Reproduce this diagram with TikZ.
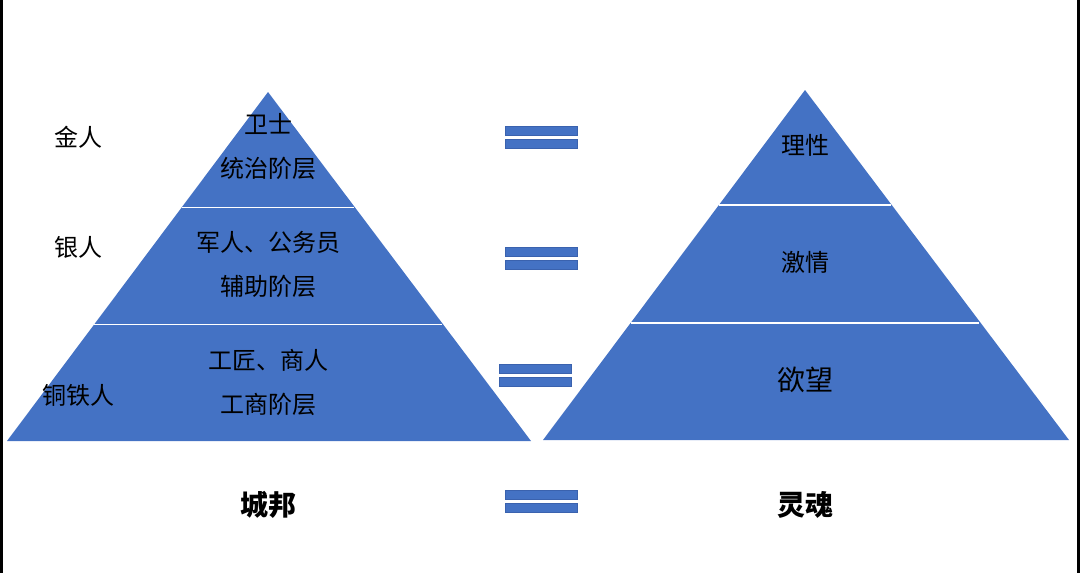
\documentclass[tikz,border=0pt]{standalone}
\usepackage{fontspec}
\setmainfont{Noto Sans CJK SC}
\definecolor{pb}{HTML}{4472C4}
\definecolor{pe}{HTML}{3A62AE}
\begin{document}
\begin{tikzpicture}[x=1pt,y=-1pt,
  band/.style={fill=pb,draw=white,line width=1.5pt},
  bar/.style={fill=pb,draw=pe,line width=0.8pt},
  lab/.style={font=\fontsize{24}{24}\selectfont,text=black,inner sep=0},
  big/.style={font=\fontsize{28}{28}\selectfont\bfseries,inner sep=0}]
\useasboundingbox (0,0) rectangle (1080,573);
\fill[black] (0,0) rectangle (3,573);
\fill[black] (1077,0) rectangle (1080,573);
% left pyramid
\coordinate (LA) at (268,92); \coordinate (LL) at (7,441); \coordinate (LR) at (531,441);
\fill[pb] (LA)--(LL)--(LR)--cycle;
\draw[white,line width=1.5pt] (181.7,207.5)--(354.3,207.5);
\draw[white,line width=1.5pt] (94,324.5)--(442,324.5);
% right pyramid
\coordinate (RA) at (805,90); \coordinate (RL) at (543,440); \coordinate (RR) at (1069,440);
\fill[pb] (RA)--(RL)--(RR)--cycle;
\draw[white,line width=1.5pt] (719.2,205)--(890.8,205);
\draw[white,line width=1.5pt] (631.1,323)--(978.9,323);
% bars
\foreach \x/\y in {505/126,505/247,499/364,505/490}{
  \draw[bar] (\x,\y) rectangle ++(72,9);
  \draw[bar] (\x,\y+13) rectangle ++(72,9);
}
\node[lab] (t1) at (268,124) {卫士};
\node[lab] (t2) at (268,168) {统治阶层};
\node[lab] (t3) at (268,242) {军人、公务员};
\node[lab] (t4) at (268,286) {辅助阶层};
\node[lab] (t5) at (268,360) {工匠、商人};
\node[lab] (t6) at (268,404) {工商阶层};
\node[lab] (g) at (78,137) {金人};
\node[lab] (s) at (78,247) {银人};
\node[lab] (c) at (78,395) {铜铁人};
\node[lab] (r1) at (805,145) {理性};
\node[lab] (r2) at (805,262) {激情};
\node[lab,font=\fontsize{28}{28}\selectfont] (r3) at (805,380) {欲望};
\node[big] (cb) at (268,505) {城邦};
\node[big] (lh) at (805,505) {灵魂};
\end{tikzpicture}
\end{document}
